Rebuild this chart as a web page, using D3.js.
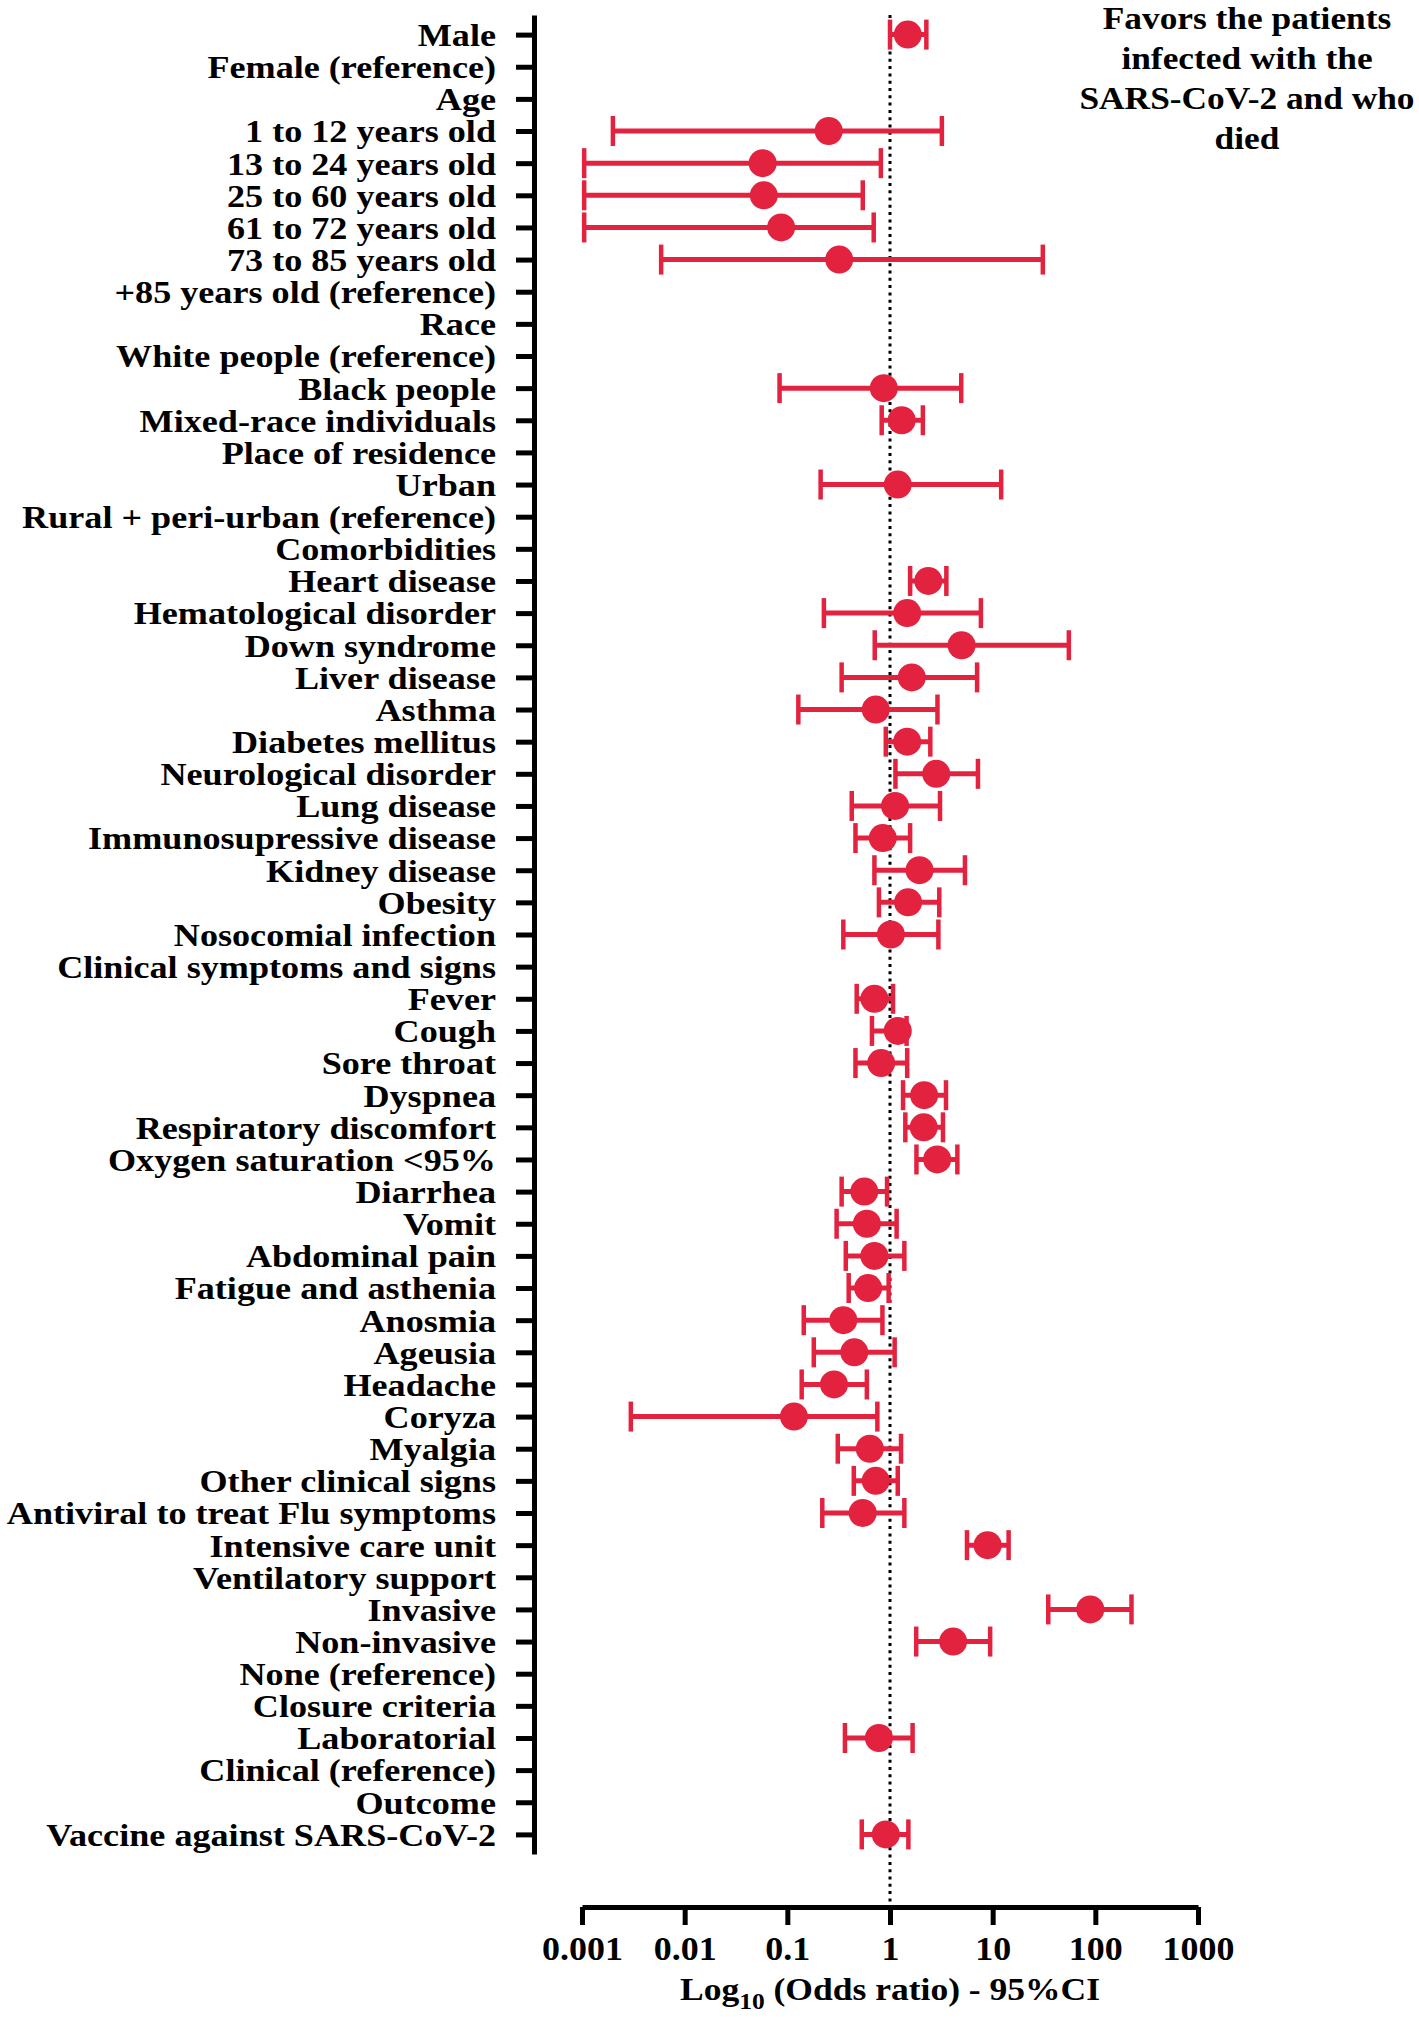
<!DOCTYPE html>
<meta charset="utf-8">
<style>
  body { margin: 0; background: #fff; }
  text { font-family: "Liberation Serif", "Times New Roman", serif; font-weight: bold; fill: #000; }
</style>
<body>
<div id="my_dataviz"></div>

<script src="https://d3js.org/d3.v7.min.js"></script>
<script>

// row labels, top to bottom
var labels = [
  "Male", "Female (reference)", "Age", "1 to 12 years old", "13 to 24 years old",
  "25 to 60 years old", "61 to 72 years old", "73 to 85 years old", "+85 years old (reference)",
  "Race", "White people (reference)", "Black people", "Mixed-race individuals",
  "Place of residence", "Urban", "Rural + peri-urban (reference)", "Comorbidities",
  "Heart disease", "Hematological disorder", "Down syndrome", "Liver disease", "Asthma",
  "Diabetes mellitus", "Neurological disorder", "Lung disease", "Immunosupressive disease",
  "Kidney disease", "Obesity", "Nosocomial infection", "Clinical symptoms and signs",
  "Fever", "Cough", "Sore throat", "Dyspnea", "Respiratory discomfort",
  "Oxygen saturation <95%", "Diarrhea", "Vomit", "Abdominal pain", "Fatigue and asthenia",
  "Anosmia", "Ageusia", "Headache", "Coryza", "Myalgia", "Other clinical signs",
  "Antiviral to treat Flu symptoms", "Intensive care unit", "Ventilatory support",
  "Invasive", "Non-invasive", "None (reference)", "Closure criteria", "Laboratorial",
  "Clinical (reference)", "Outcome", "Vaccine against SARS-CoV-2"
];

// odds ratio, lower and upper 95% CI (null = reference / heading rows)
var oddsRatio = [
  1.49, null, null, 0.253, 0.0575, 0.059, 0.087, 0.32, null,
  null, null, 0.87, 1.30, null, 1.19, null, null,
  2.36, 1.47, 4.98, 1.63, 0.726, 1.47, 2.82, 1.12, 0.85, 1.94, 1.50, 1.02, null,
  0.705, 1.19, 0.82, 2.15, 2.13, 2.88, 0.562, 0.595, 0.705, 0.612,
  0.351, 0.449, 0.285, 0.116, 0.636, 0.726, 0.542, 8.93, null,
  89.3, 4.12, null, null, 0.78, null, null, 0.91
];
var ciLow = [
  1.00, null, null, 0.0020, 0.00105, 0.00105, 0.00105, 0.0059, null,
  null, null, 0.084, 0.83, null, 0.211, null, null,
  1.57, 0.227, 0.71, 0.338, 0.128, 0.91, 1.13, 0.424, 0.461, 0.705, 0.78, 0.351, null,
  0.474, 0.667, 0.461, 1.34, 1.41, 1.81, 0.338, 0.302, 0.371, 0.396,
  0.1445, 0.181, 0.138, 0.00299, 0.31, 0.444, 0.219, 5.62, null,
  34.8, 1.80, null, null, 0.364, null, null, 0.531
];
var ciHigh = [
  2.26, null, null, 3.2, 0.815, 0.543, 0.694, 30.8, null,
  null, null, 4.94, 2.09, null, 12.1, null, null,
  3.54, 7.68, 55.2, 7.05, 2.90, 2.47, 7.19, 3.07, 1.57, 5.37, 3.02, 2.96, null,
  1.07, 1.45, 1.47, 3.51, 3.28, 4.53, 0.936, 1.16, 1.38, 0.97,
  0.844, 1.11, 0.595, 0.753, 1.28, 1.19, 1.38, 14.3, null,
  225, 9.45, null, null, 1.66, null, null, 1.51
];

// x axis ticks
var tickValues = [0.001, 0.01, 0.1, 1, 10, 100, 1000];
var tickLabels = ["0.001", "0.01", "0.1", "1", "10", "100", "1000"];

var titleLines = ["Favors the patients", "infected with the", "SARS-CoV-2 and who", "died"];

var red = "#e2223f";

var width = 1419, height = 2020;

var svg = d3.select("#my_dataviz")
  .append("svg")
    .attr("width", width)
    .attr("height", height);

var data = labels.map(function(l, i) {
  return { label: l, or: oddsRatio[i], lo: ciLow[i], hi: ciHigh[i] };
});

// X scale: log odds ratio
var x = d3.scaleLog()
  .domain([0.001, 1000])
  .range([582, 1198]);

// Y scale: one row per label
var y = d3.scalePoint()
  .domain(labels)
  .range([15, 1854])
  .padding(0.61);

var axisLeftX = 534, axisBottomY = 1907;

// dotted reference line at OR = 1
svg.append("line")
  .attr("x1", x(1)).attr("x2", x(1))
  .attr("y1", 15).attr("y2", axisBottomY)
  .attr("stroke", "#000")
  .attr("stroke-width", 3)
  .attr("stroke-dasharray", "3,4.3");

// left axis
var yAxis = svg.append("g")
  .attr("transform", "translate(" + axisLeftX + ",0)")
  .call(d3.axisLeft(y).tickSize(18).tickSizeOuter(0).tickPadding(20));
yAxis.select(".domain").attr("stroke-width", 5);
yAxis.selectAll(".tick line").attr("stroke-width", 5);
// the original lettering is a bit wider than Times, so stretch it horizontally
yAxis.selectAll(".tick text")
  .attr("font-size", 32)
  .attr("font-family", null)
  .attr("x", 0)
  .attr("dy", "0.34em")
  .attr("transform", "translate(-38,0) scale(1.13,1)");

// bottom axis
var xAxis = svg.append("g")
  .attr("transform", "translate(0," + axisBottomY + ")")
  .call(d3.axisBottom(x)
    .tickValues(tickValues)
    .tickFormat(function(d, i) { return tickLabels[i]; })
    .tickSize(18).tickSizeOuter(0).tickPadding(12));
xAxis.select(".domain").attr("stroke-width", 5);
xAxis.selectAll(".tick line").attr("stroke-width", 5);
xAxis.selectAll(".tick text")
  .attr("font-size", 33)
  .attr("font-family", null)
  .attr("transform", "scale(1.09,1)");
svg.selectAll(".domain, .tick line").attr("stroke", "#000");
svg.selectAll(".tick text").attr("fill", "#000");

// axis title with subscript
var xt = svg.append("text")
  .attr("transform", "translate(" + x(1) + ",2000) scale(1.11,1)")
  .attr("text-anchor", "middle")
  .attr("font-size", 32);
xt.append("tspan").text("Log");
xt.append("tspan").attr("font-size", 23).attr("dy", 9).text("10");
xt.append("tspan").attr("dy", -9).text(" (Odds ratio) - 95%CI");

// annotation top right
svg.append("g").selectAll("text")
  .data(titleLines)
  .enter()
  .append("text")
    .attr("transform", function(d, i) { return "translate(1247," + (29 + i * 40) + ") scale(1.14,1)"; })
    .attr("text-anchor", "middle")
    .attr("font-size", 31)
    .text(function(d) { return d; });

// error bars + points
var est = data.filter(function(d) { return d.or != null; });
var capH = 15;

var g = svg.append("g");
g.selectAll(".ci")
  .data(est)
  .enter()
  .append("line")
    .attr("x1", function(d) { return x(d.lo); })
    .attr("x2", function(d) { return x(d.hi); })
    .attr("y1", function(d) { return y(d.label); })
    .attr("y2", function(d) { return y(d.label); })
    .attr("stroke", red)
    .attr("stroke-width", 5);

g.selectAll(".capLo")
  .data(est)
  .enter()
  .append("line")
    .attr("x1", function(d) { return x(d.lo); })
    .attr("x2", function(d) { return x(d.lo); })
    .attr("y1", function(d) { return y(d.label) - capH; })
    .attr("y2", function(d) { return y(d.label) + capH; })
    .attr("stroke", red)
    .attr("stroke-width", 4.5);

g.selectAll(".capHi")
  .data(est)
  .enter()
  .append("line")
    .attr("x1", function(d) { return x(d.hi); })
    .attr("x2", function(d) { return x(d.hi); })
    .attr("y1", function(d) { return y(d.label) - capH; })
    .attr("y2", function(d) { return y(d.label) + capH; })
    .attr("stroke", red)
    .attr("stroke-width", 4.5);

g.selectAll("circle")
  .data(est)
  .enter()
  .append("circle")
    .attr("cx", function(d) { return x(d.or); })
    .attr("cy", function(d) { return y(d.label); })
    .attr("r", 14)
    .attr("fill", red);

</script>
</body>
